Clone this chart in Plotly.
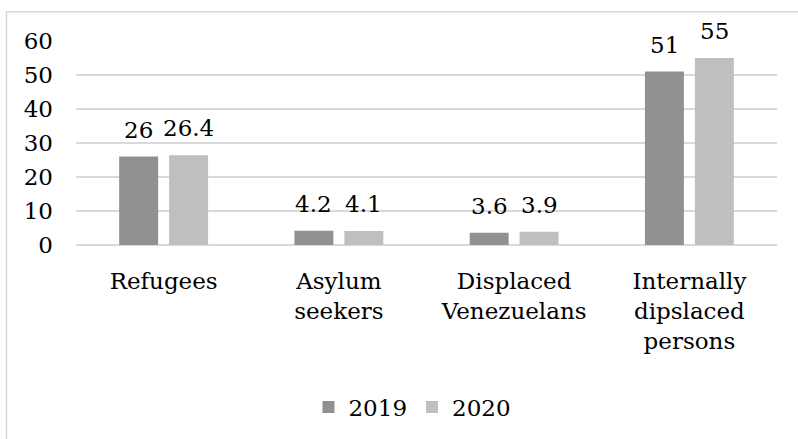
import plotly.graph_objects as go

categories = ["Refugees", "Asylum<br>seekers", "Displaced<br>Venezuelans", "Internally<br>dipslaced<br>persons"]
series_names = ["2019", "2020"]
values_2019 = [26, 4.2, 3.6, 51]
values_2020 = [26.4, 4.1, 3.9, 55]
y_ticks = [0, 10, 20, 30, 40, 50, 60]

colors = ["#919191", "#bfbfbf"]
FONT = "DejaVu Serif"
FS = 23

fig = go.Figure()
for name, vals, col in zip(series_names, [values_2019, values_2020], colors):
    fig.add_trace(go.Bar(x=categories, y=vals, name=name, marker=dict(color=col, line=dict(width=0))))

# data labels
for vals, shift in zip([values_2019, values_2020], [-25, 25]):
    for c, v in zip(categories, vals):
        fig.add_annotation(x=c, y=v, text=str(v), showarrow=False, xshift=shift,
                           yanchor="bottom", yshift=12, font=dict(family=FONT, size=FS, color="#000000"))

fig.update_layout(
    width=798, height=439,
    margin=dict(l=76, r=21, t=41, b=193),
    paper_bgcolor="white", plot_bgcolor="white",
    font=dict(family=FONT, size=FS, color="#000000"),
    barmode="group", bargap=0.43, bargroupgap=0.22,
    showlegend=True,
    legend=dict(orientation="h", x=0.48, xanchor="center", y=-0.785, yanchor="middle",
                font=dict(family=FONT, size=FS), itemwidth=30),
    xaxis=dict(showgrid=False, showline=False, ticks="", ticklabelstandoff=20,
               tickfont=dict(family=FONT, size=FS)),
    yaxis=dict(range=[0, 60], tickvals=y_ticks, showgrid=True, gridcolor="#d9d9d9", gridwidth=1.5,
               zeroline=True, zerolinecolor="#d9d9d9", zerolinewidth=1.5, showline=False,
               ticks="", ticklabelstandoff=22, tickfont=dict(family=FONT, size=FS)),
)

# outer chart frame (left and top edges visible)
fig.add_shape(type="rect", xref="paper", yref="paper",
              x0=(6.5 - 76) / 701, x1=(830 - 76) / 701,
              y0=1 - (470 - 41) / 205, y1=1 - (11.5 - 41) / 205,
              line=dict(color="#d9d9d9", width=1.5), fillcolor="rgba(0,0,0,0)", layer="below")

fig.write_html("out.html")
